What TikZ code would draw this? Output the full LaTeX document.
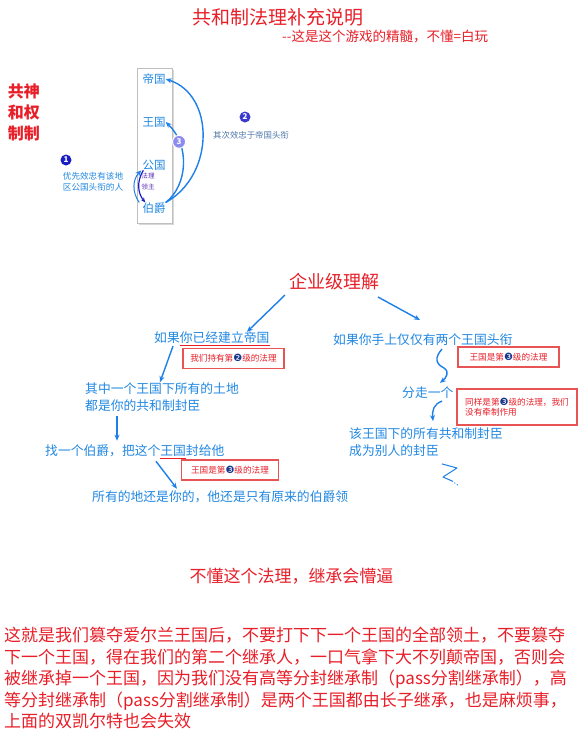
\documentclass[tikz,border=0pt]{standalone}
\usepackage{fontspec}
\setmainfont{Noto Sans CJK SC}
\newfontfamily\dejavu{DejaVu Sans}
\usepackage{xcolor}
\definecolor{titlered}{RGB}{232,30,40}
\definecolor{textblue}{RGB}{34,136,226}
\definecolor{arrowblue}{RGB}{28,128,232}
\definecolor{boxred}{RGB}{232,84,84}
\definecolor{numdark}{RGB}{28,28,196}
\definecolor{numindigo}{RGB}{58,58,208}
\definecolor{lavender}{RGB}{140,140,240}
\definecolor{numnavy}{RGB}{24,56,140}
\definecolor{grayblue}{RGB}{80,120,170}
\definecolor{violet}{RGB}{90,50,180}
\usetikzlibrary{arrows.meta,positioning,shadows}
\newcommand{\circnum}[1]{{\dejavu\fontsize{10}{10}\selectfont\color{numnavy}#1}}

\begin{document}
\begin{tikzpicture}[x=1pt, y=-1pt,
        redtext/.style={text=titlered, inner sep=0pt, font=\fontsize{#1}{#1}\selectfont},
        bluetext/.style={text=textblue, inner sep=0pt, align=left, font=\fontsize{12.8}{17.5}\selectfont},
        title/.style={text=textblue, inner sep=0pt, font=\fontsize{11.5}{11.5}\selectfont},
        lawbox/.style={draw=boxred, line width=1.2pt, text=titlered, inner xsep=4pt, align=left, minimum height=20pt, font=\fontsize{8.6}{10.5}\selectfont},
        numc/.style={circle, fill=#1, text=white, inner sep=0pt, minimum size=11pt, font=\bfseries\fontsize{8}{8}\selectfont},
        arrow/.style={-{Stealth[length=6pt,width=5pt]}, line width=1.4pt, color=arrowblue},
        uline/.style={titlered, line width=1pt}
    ]
        \useasboundingbox[fill=white] (0,0) rectangle (580,732);

        \node[redtext=19] (head) at (278,17) {共和制法理补充说明};
        \node[redtext=13.5, anchor=west] (sub) at (282,37) {-{}-这是这个游戏的精髓，不懂=白玩};
        \node[redtext=16, align=center, font=\bfseries\fontsize{16}{21}\selectfont] (gongshen) at (24,112) {共神\\和权\\制制};

        \node[draw=gray!50, fill=white, minimum width=35pt, minimum height=155pt, drop shadow={shadow xshift=1.5pt, shadow yshift=-1.5pt, fill=gray!60}] (frame) at (154.5,145.5) {};
        \node[title] (diguo) at (154,79) {帝国};
        \node[title] (wangguo) at (154,122) {王国};
        \node[title] (gongguo) at (154,165) {公国};
        \node[title] (bojue) at (154,208) {伯爵};
        \node[text=violet, inner sep=0pt, align=left, font=\fontsize{6.6}{11}\selectfont] (faling) at (148,181) {法理\\领主};

        \draw[arrow] (bojue.north east) .. controls (215,175) and (215,95) .. (diguo.east);
        \draw[arrow] (bojue.north east) .. controls (188,185) and (190,145) .. (wangguo.east)
            node[pos=0.75, numc=lavender, draw=white, line width=1pt, minimum size=13pt] (n3) {3};
        \draw[arrow, line width=1pt] ([xshift=-3pt]bojue.north west) to[bend left=40] ([xshift=-1pt]gongguo.south west);
        \draw[-{Stealth[length=5pt,width=4pt]}, line width=1.2pt, numdark] ([xshift=1pt]gongguo.south west) to[bend right=35] ([xshift=3pt]bojue.north west);

        \node[numc=numdark] (n1) at (66,160) {1};
        \node[text=textblue, inner sep=0pt, align=left, font=\fontsize{8.6}{11}\selectfont] (youxian) at (93,181.5) {优先效忠有该地\\区公国头衔的人};
        \node[numc=numindigo] (n2) at (245,117) {2};
        \node[text=grayblue, inner sep=0pt, font=\fontsize{8.4}{8.4}\selectfont] (qici) at (251,135) {其次效忠于帝国头衔};

        \node[redtext=18] (qiye) at (334,282) {企业级理解};
        \coordinate (qleft) at (285,295);
        \coordinate (qright) at (378,297);

        \node[bluetext, anchor=west] (ifemp) at (154,338) {如果你已经建立帝国};
        \draw[uline] ([xshift=25.6pt, yshift=-2.5pt]ifemp.base west) -- ([yshift=-2.5pt]ifemp.base east);
        \node[lawbox, minimum width=101pt] (law2) at (233.5,358.5) {我们持有第\circnum{❷}级的法理};
        \node[bluetext, anchor=west] (allland) at (85,397) {其中一个王国下所有的土地\\都是你的共和制封臣};
        \node[bluetext, anchor=west] (findcount) at (45,451) {找一个伯爵，把这个王国封给他};
        \draw[uline] ([xshift=115.2pt, yshift=-2.5pt]findcount.base west) -- ([xshift=140.8pt, yshift=-2.5pt]findcount.base west);
        \node[lawbox, minimum width=97pt] (law3a) at (230,470) {王国是第\circnum{❸}级的法理};
        \node[bluetext, anchor=west] (stillyours) at (92,497) {所有的地还是你的，他还是只有原来的伯爵领};

        \node[bluetext, anchor=west] (twokg) at (333,340) {如果你手上仅仅有两个王国头衔};
        \node[lawbox, minimum width=101pt] (law3b) at (508.5,357) {王国是第\circnum{❸}级的法理};
        \node[bluetext, anchor=west] (takeone) at (402,393) {分走一个};
        \node[lawbox, minimum width=120pt, minimum height=36pt] (law3c) at (517,407) {同样是第\circnum{❸}级的法理，我们\\没有牵制作用};
        \node[bluetext, anchor=west] (others) at (349,442) {该王国下的所有共和制封臣\\成为别人的封臣};

        \draw[arrow] (qleft) -- (ifemp.north -| 247,0);
        \draw[arrow] (qright) -- (420,320);
        \draw[arrow] ([xshift=19pt, yshift=-2pt]ifemp.south west) -- ([xshift=75pt]allland.north west);
        \draw[arrow] ([xshift=32pt, yshift=-4pt]allland.south west) -- ([xshift=72pt, yshift=4pt]findcount.north west);
        \draw[arrow] ([xshift=111pt, yshift=-4pt]findcount.south west) -- ([xshift=85pt, yshift=2pt]stillyours.north west);
        \draw[arrow] ([xshift=109pt, yshift=-3pt]twokg.south west) .. controls (434,358) and (436,364) .. (444,368)
            .. controls (450,372) and (446,378) .. ([xshift=38pt, yshift=4pt]takeone.north west);
        \draw[arrow] ([xshift=40pt, yshift=-2pt]takeone.south west) .. controls (434,404) and (432,410) .. ([xshift=84pt, yshift=6pt]others.north west);
        \draw[arrowblue, line width=1pt, line join=round] ([xshift=93pt, yshift=-7pt]others.south west) -- (457,468) -- (443,477) -- (452,481);
        \draw[arrowblue, line width=1pt, dotted] (452,481) -- (459,486);

        \node[redtext=17] (dontknow) at (291.5,576) {不懂这个法理，继承会懵逼};
        \node[redtext=17, anchor=west, align=left, font=\fontsize{17}{21.5}\selectfont] (story) at (4,678)
            {这就是我们篡夺爱尔兰王国后，不要打下下一个王国的全部领土，不要篡夺\\
             下一个王国，得在我们的第二个继承人，一口气拿下大不列颠帝国，否则会\\
             被继承掉一个王国，因为我们没有高等分封继承制（pass分割继承制），高\\
             等分封继承制（pass分割继承制）是两个王国都由长子继承，也是麻烦事，\\
             上面的双凯尔特也会失效};
    \end{tikzpicture}
\end{document}
